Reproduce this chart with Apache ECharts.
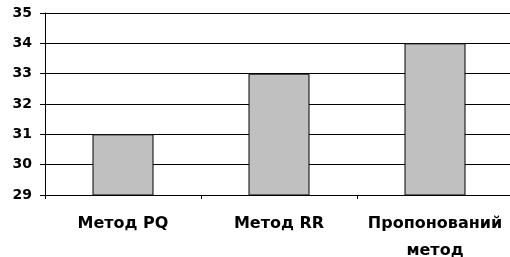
<!DOCTYPE html>
<html>
<head>
<meta charset="utf-8">
<script src="https://cdn.jsdelivr.net/npm/echarts@6/dist/echarts.min.js"></script>
<style>
  html, body { margin: 0; padding: 0; background: #fff; }
  #main { width: 510px; height: 257px; }
</style>
</head>
<body>
<div id="main"></div>
<script>
const categories = ["Метод PQ", "Метод RR", "Пропонований\nметод"];
const values = [31, 33, 34];
const yMin = 29;
const yMax = 35;

let myChart = echarts.init(document.getElementById("main"), null, { renderer: "canvas" });
let option = {
  animation: false,
  backgroundColor: "#fff",
  grid: {
    left: 45,
    right: -3,
    top: 13,
    bottom: 62,
    containLabel: false,
    outerBoundsMode: "none",
  },
  xAxis: {
    type: "category",
    data: categories,
    axisLine: { lineStyle: { color: "#000", width: 1 } },
    axisTick: { show: true, length: 4, lineStyle: { color: "#000" } },
    axisLabel: {
      interval: 0,
      margin: 15,
      color: "#000",
      fontFamily: "DejaVu Sans",
      fontWeight: "bold",
      fontSize: 16,
      lineHeight: 27,
    },
  },
  yAxis: {
    type: "value",
    min: yMin,
    max: yMax,
    interval: 1,
    axisLine: { show: true, lineStyle: { color: "#000", width: 1 } },
    axisTick: { show: true, length: 5, lineStyle: { color: "#000" } },
    splitLine: { show: true, lineStyle: { color: "#000", width: 1 } },
    axisLabel: {
      margin: 13,
      color: "#000",
      fontFamily: "DejaVu Sans",
      fontWeight: "bold",
      fontSize: 14,
    },
  },
  series: [
    {
      type: "bar",
      data: values,
      barWidth: 61,
      itemStyle: {
        color: "#c0c0c0",
        borderColor: "#000",
        borderWidth: 1,
      },
    },
  ],
};
myChart.setOption(option);
</script>
</body>
</html>
